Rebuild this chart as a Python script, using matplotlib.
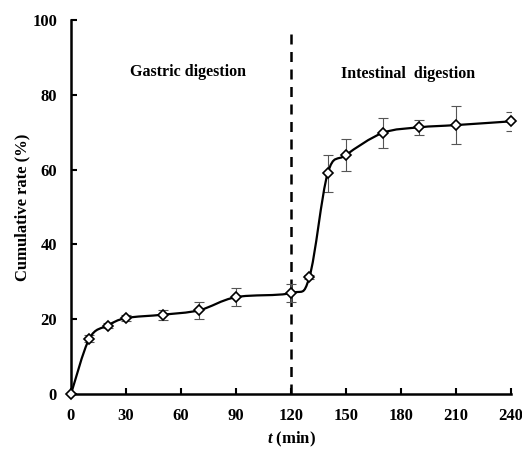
import matplotlib
matplotlib.use("Agg")
import matplotlib.pyplot as plt
from matplotlib.path import Path
from matplotlib.patches import PathPatch

plt.rcParams['font.family'] = ['Liberation Serif', 'DejaVu Serif']
plt.rcParams['font.weight'] = 'bold'
plt.rcParams['mathtext.fontset'] = 'custom'
plt.rcParams['mathtext.bfit'] = 'Liberation Serif:italic:bold'
plt.rcParams['mathtext.it'] = 'Liberation Serif:italic:bold'

time_min = [0, 10, 20, 30, 50, 70, 90, 120, 130, 140, 150, 170, 190, 210, 240]
cum_rate = [0, 14.8, 18.3, 20.3, 21.2, 22.4, 25.9, 27.0, 31.2, 59.0, 63.9, 69.8, 71.3, 71.9, 72.9]
rate_err = [0, 1.0, 0.7, 0.9, 1.3, 2.3, 2.5, 2.5, 0.5, 4.9, 4.4, 3.9, 2.0, 5.0, 2.6]
x_ticks = [0, 30, 60, 90, 120, 150, 180, 210, 240]
y_ticks = [0, 20, 40, 60, 80, 100]


def smooth_path(xs, ys):
    # excel-style smoothed line: cubic bezier segments through each point
    pts = list(zip(xs, ys))
    n = len(pts)
    verts = [pts[0]]
    codes = [Path.MOVETO]
    for i in range(n - 1):
        p0 = pts[i - 1] if i > 0 else pts[i]
        p1 = pts[i]
        p2 = pts[i + 1]
        p3 = pts[i + 2] if i + 2 < n else pts[i + 1]
        c1 = (p1[0] + (p2[0] - p0[0]) / 6, p1[1] + (p2[1] - p0[1]) / 6)
        c2 = (p2[0] - (p3[0] - p1[0]) / 6, p2[1] - (p3[1] - p1[1]) / 6)
        verts += [c1, c2, p2]
        codes += [Path.CURVE4] * 3
    return Path(verts, codes)


fig = plt.figure(figsize=(5.22, 4.49), dpi=100)
ax = fig.add_axes([0.136, 0.1225, 0.843, 0.833])

ax.add_patch(PathPatch(smooth_path(time_min, cum_rate), fill=False,
                       edgecolor='black', linewidth=1.6, zorder=3, clip_on=False))
ax.errorbar(time_min[1:], cum_rate[1:], yerr=rate_err[1:], fmt='none',
            ecolor='#555555', elinewidth=0.8, capsize=3.5, capthick=0.8, zorder=2)
ax.plot(time_min, cum_rate, linestyle='none', marker='D', markersize=5.5,
        markerfacecolor='white', markeredgecolor='black', markeredgewidth=1.2,
        zorder=4, clip_on=False)

ax.plot([120, 120], [0, 96.5], color='black', linestyle=(0, (4, 3)), linewidth=1.8, zorder=1)

ax.text(64, 86, 'Gastric digestion', ha='center', va='center', fontsize=11.5, fontweight='bold')
ax.text(184, 85.6, 'Intestinal  digestion', ha='center', va='center', fontsize=11.5, fontweight='bold')

ax.set_xlim(0, 240)
ax.set_ylim(0, 100)
ax.set_xticks(x_ticks)
ax.set_yticks(y_ticks)
ax.tick_params(direction='in', length=4, width=1.5, labelsize=12)
ax.tick_params(axis='x', pad=10)
ax.tick_params(axis='y', pad=10)
for lab in ax.get_xticklabels() + ax.get_yticklabels():
    lab.set_fontweight('bold')

for s in ['top', 'right']:
    ax.spines[s].set_visible(False)
for s in ['left', 'bottom']:
    ax.spines[s].set_linewidth(1.8)
ax.patch.set_alpha(0)

ax.set_xlabel(r'$\mathbfit{t}$ (min)', fontsize=12, fontweight='bold', labelpad=4)
ax.set_ylabel('Cumulative rate (%)', fontsize=12, fontweight='bold', labelpad=7)
ax.yaxis.set_label_coords(-0.092, 0.5)

fig.savefig('out.png', dpi=100)
